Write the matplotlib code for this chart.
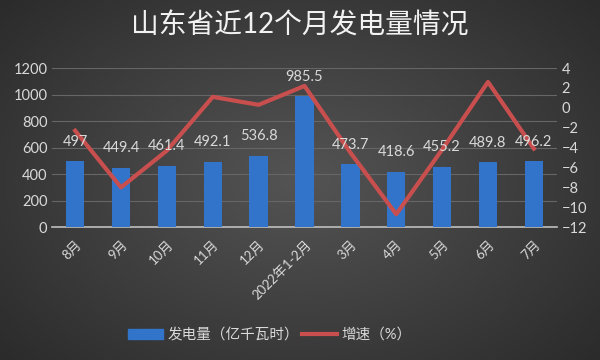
import numpy as np
import matplotlib.pyplot as plt
from matplotlib.lines import Line2D
from matplotlib.patches import Patch

plt.rcParams['font.family'] = ['Lato', 'Noto Sans CJK SC', 'DejaVu Sans']

# 数据
months = ['8月', '9月', '10月', '11月', '12月', '2022年1-2月', '3月', '4月', '5月', '6月', '7月']
output = [497, 449.4, 461.4, 492.1, 536.8, 985.5, 473.7, 418.6, 455.2, 489.8, 496.2]
growth = [-2.3, -8.0, -4.3, 1.1, 0.3, 2.2, -4.5, -10.7, -4.2, 2.6, -4.1]
output_labels = ['497', '449.4', '461.4', '492.1', '536.8', '985.5', '473.7', '418.6', '455.2', '489.8', '496.2']

txt = '#d9d9d9'
fig = plt.figure(figsize=(6, 3.6), dpi=100)

# fond dégradé radial
bg = fig.add_axes([0, 0, 1, 1], zorder=-10)
yy, xx = np.mgrid[-1:1:200j, -1:1:300j]
rr = np.sqrt(xx**2 + (yy * 0.9)**2)
lum = np.clip(0.33 - 0.12 * rr, 0.15, 0.4)
bg.imshow(np.dstack([lum, lum, lum]), aspect='auto', extent=[0, 1, 0, 1])
bg.set_axis_off()

ax = fig.add_axes([0.087, 0.369, 0.841, 0.442])
ax.set_facecolor('none')
x = np.arange(len(months))
ax.bar(x, output, width=0.4, color='#3174c9', zorder=3)

ax.set_xlim(-0.5, len(months) - 0.5)
ax.set_ylim(0, 1200)
ax.set_yticks(range(0, 1201, 200))
ax.grid(axis='y', color='#666666', linewidth=0.8, zorder=0)
ax.set_xticks(x)
ax.set_xticklabels(months, rotation=45, ha='right', rotation_mode='anchor', color=txt, fontsize=9.5)
ax.tick_params(axis='y', colors=txt, labelsize=10.5, length=0)
ax.tick_params(axis='x', length=0, pad=8)
for s in ['top', 'right', 'left']:
    ax.spines[s].set_visible(False)
ax.spines['bottom'].set_color('#bfbfbf')
ax.spines['bottom'].set_linewidth(1.2)

ax2 = ax.twinx()
ax2.plot(x, growth, color='#c94f4f', linewidth=3, zorder=4)
ax2.set_ylim(-12, 4)
ax2.set_yticks(range(-12, 5, 2))
ax2.tick_params(axis='y', colors=txt, labelsize=10.5, length=0)
for s in ax2.spines.values():
    s.set_visible(False)

# étiquettes au-dessus de la ligne
for xi, v, lab in zip(x, output, output_labels):
    ax2.annotate(lab, (xi, v), xycoords=ax.transData, xytext=(0, 9), textcoords='offset points',
                 ha='center', va='bottom', color=txt, fontsize=10.5, zorder=6)

fig.text(0.5, 0.93, '山东省近12个月发电量情况', ha='center', va='center',
         color='#f2f2f2', fontsize=20)

handles = [Patch(color='#3174c9'), Line2D([0], [0], color='#c94f4f', linewidth=3)]
fig.legend(handles, ['发电量（亿千瓦时）', '增速（%）'], loc='center', bbox_to_anchor=(0.45, 0.07),
           ncol=2, frameon=False, labelcolor=txt, fontsize=10.5, handlelength=2.4,
           columnspacing=0.2, handletextpad=0.3)

fig.savefig('out.png', dpi=100)
